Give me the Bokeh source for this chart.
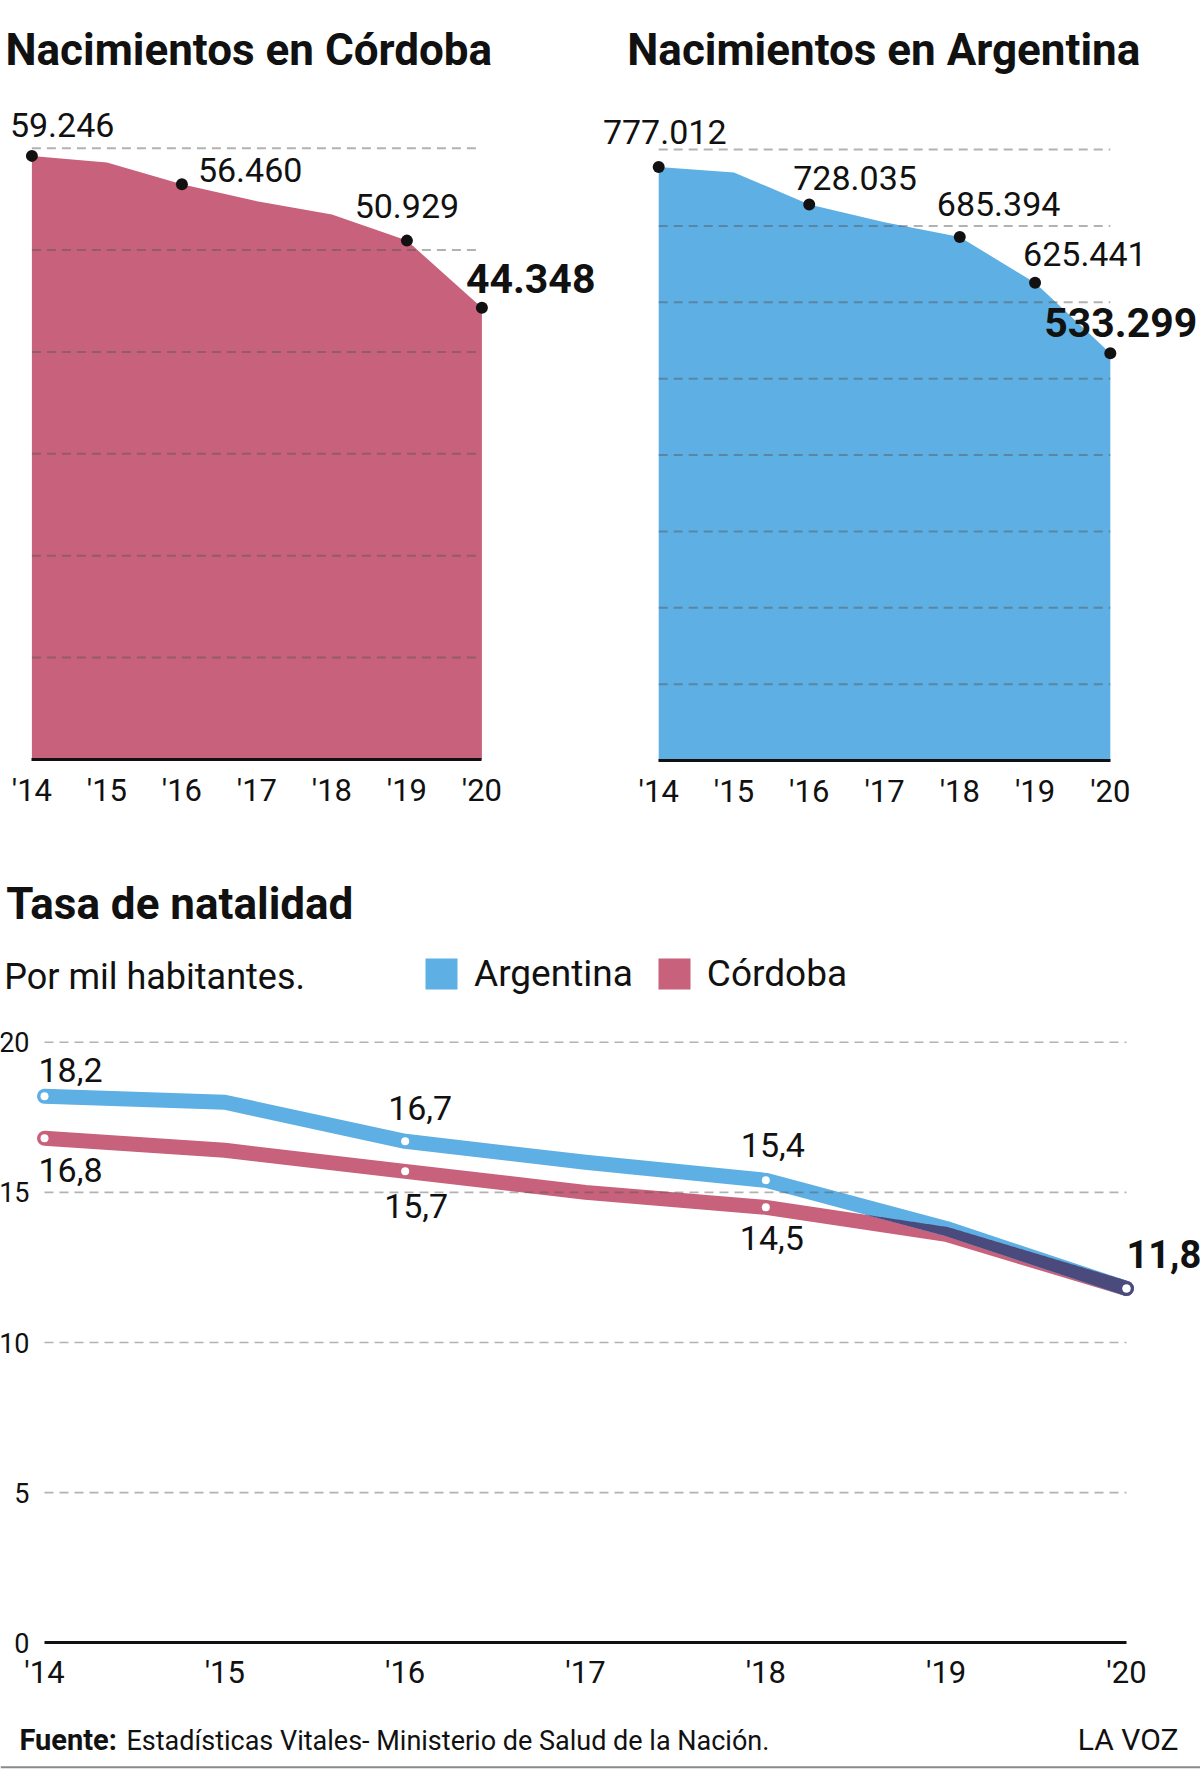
import numpy as np
from bokeh.plotting import figure
from bokeh.models import (Range1d, FixedTicker, LinearAxis, Label, Span,
                          Legend, LegendItem, ColumnDataSource)
from bokeh.layouts import column, row
from bokeh.core.properties import value
from bokeh.embed import file_html
from bokeh.resources import INLINE

# ---------------------------------------------------------------- data
years = [2014, 2015, 2016, 2017, 2018, 2019, 2020]
year_labels = ["'14", "'15", "'16", "'17", "'18", "'19", "'20"]

nac_cordoba = [59246, 58600, 56460, 54800, 53500, 50929, 44348]
nac_argentina = [777012, 770000, 728035, 704600, 685394, 625441, 533299]

tasa_argentina = [18.2, 18.0, 16.7, 16.0, 15.4, 13.8, 11.8]
tasa_cordoba = [16.8, 16.4, 15.7, 15.0, 14.5, 13.6, 11.8]

cordoba_grid = [10000, 20000, 30000, 40000, 50000, 60000]
argentina_grid = [100000, 200000, 300000, 400000, 500000, 600000, 700000, 800000]
tasa_grid = [5, 10, 15, 20]
tasa_ticks = [0, 5, 10, 15, 20]

# ---------------------------------------------------------------- style
FONT_NAME = "Roboto"
FONT = value(FONT_NAME)          # for glyphs
INK = "#111111"
PINK = "#C8617B"
BLUE = "#5EAFE3"
SHARED = "#4B4A7D"   # where the two rate lines lie on top of each other
GRID = "#555555"
LIFT = 0.37          # em: raise single-line text so its baseline sits on the anchor


def miles(v):
    return f"{v:,}".replace(",", ".")


def decimal(v):
    return f"{v:.1f}".replace(".", ",")


def frame(width, height, x_px0, x_per, y_px0, y_per):
    """Ranges so that years[0] sits x_px0 px from the left and 0 sits y_px0 px
    from the top; plus helpers turning pixel positions into data units."""
    xr = Range1d(years[0] - x_px0 / x_per, years[0] + (width - x_px0) / x_per)
    yr = Range1d(-(height - y_px0) / y_per, y_px0 / y_per)
    to_x = lambda px: years[0] + (px - x_px0) / x_per
    to_y = lambda py: (y_px0 - py) / y_per
    return xr, yr, to_x, to_y


def make_fig(width, height, xr, yr):
    p = figure(width=width, height=height, x_range=xr, y_range=yr,
               output_backend="svg", toolbar_location=None, tools="",
               x_axis_location=None, y_axis_location=None,
               min_border=0, min_border_left=0, min_border_right=0,
               min_border_top=0, min_border_bottom=0,
               outline_line_color=None, background_fill_color="white",
               border_fill_color="white")
    p.grid.visible = False
    return p


def year_axis(p, size, standoff):
    ax = LinearAxis(ticker=FixedTicker(ticks=years), fixed_location=0,
                    bounds=(years[0], years[-1]),
                    major_label_overrides={y: l for y, l in zip(years, year_labels)},
                    axis_line_color=INK, axis_line_width=3,
                    major_tick_line_color=None, minor_tick_line_color=None,
                    major_label_standoff=standoff,
                    major_label_text_font=FONT_NAME, major_label_text_font_size=size,
                    major_label_text_line_height=1.0,
                    major_label_text_color=INK)
    p.add_layout(ax, "below")


def text_label(p, to_x, to_y, text, px, py, size, bold=False, align="left"):
    p.add_layout(Label(x=to_x(px), y=to_y(py - LIFT * size), text=text,
                       text_font=FONT_NAME, text_font_size=f"{size}px",
                       text_font_style="bold" if bold else "normal", text_color=INK,
                       text_align=align, text_baseline="alphabetic",
                       text_line_height=1.0))


def dashed_grid(p, levels, width=2):
    src = ColumnDataSource(dict(y=levels))
    p.segment(x0=years[0], x1=years[-1], y0="y", y1="y", source=src,
              line_color=GRID, line_alpha=0.45, line_width=width, line_dash="9 6")


def value_labels(p, values, placement, fmt, size, bold_size):
    for yr, v in zip(years, values):
        if yr not in placement:
            continue
        align, dx, dy, bold = placement[yr]
        s = bold_size if bold else size
        p.text(x=[yr], y=[v], text=[fmt(v)], x_offset=dx, y_offset=dy - LIFT * s,
               text_align=align, text_baseline="alphabetic", text_line_height=1.0,
               text_font=FONT, text_font_size=f"{s}px",
               text_font_style="bold" if bold else "normal", text_color=INK)


# ------------------------------------------------ births in Córdoba
xr1, yr1, X1, Y1 = frame(600, 830, 31.4, 75.0, 759, 611.3 / 60000)
p1 = make_fig(600, 830, xr1, yr1)
p1.varea(x=years, y1=0, y2=nac_cordoba, fill_color=PINK)
dashed_grid(p1, cordoba_grid)
year_axis(p1, "31px", 6)
cordoba_place = {2014: ("left", -22, -18, False),
                 2016: ("left", 16, -2, False),
                 2019: ("center", 0, -22, False),
                 2020: ("left", -16, -14, True)}
cy = [y for y in years if y in cordoba_place]
p1.scatter(x=cy, y=[v for y, v in zip(years, nac_cordoba) if y in cordoba_place],
           size=12, fill_color=INK, line_color=None)
value_labels(p1, nac_cordoba, cordoba_place, miles, 34, 41)
text_label(p1, X1, Y1, "Nacimientos en Córdoba", 5, 66, 44, bold=True)

# ------------------------------------------------ births in Argentina
xr2, yr2, X2, Y2 = frame(600, 830, 58.2, 75.27, 760, 611.0 / 800000)
p2 = make_fig(600, 830, xr2, yr2)
p2.varea(x=years, y1=0, y2=nac_argentina, fill_color=BLUE)
dashed_grid(p2, argentina_grid)
year_axis(p2, "31px", 6)
argentina_place = {2014: ("center", 6, -22, False),
                   2016: ("left", -16, -14, False),
                   2018: ("left", -23, -20, False),
                   2019: ("left", -12, -16, False),
                   2020: ("right", 87, -16, True)}
ay = [y for y in years if y in argentina_place]
p2.scatter(x=ay, y=[v for y, v in zip(years, nac_argentina) if y in argentina_place],
           size=12, fill_color=INK, line_color=None)
value_labels(p2, nac_argentina, argentina_place, miles, 34, 41)
text_label(p2, X2, Y2, "Nacimientos en Argentina", 26.8, 66, 44, bold=True)

# ------------------------------------------------ birth rate
W3, H3 = 1200, 939
PX_YEAR, PX_UNIT = 180.33, 30.03
xr3, yr3, X3, Y3 = frame(W3, H3, 44, PX_YEAR, 812.3, PX_UNIT)
p3 = make_fig(W3, H3, xr3, yr3)

LW = 15
p3.line(years, tasa_cordoba, line_color=PINK, line_width=LW,
        line_cap="round", line_join="round")
p3.line(years, tasa_argentina, line_color=BLUE, line_width=LW,
        line_cap="round", line_join="round")

# darker band where the two thick strokes overlap
xs = np.linspace(years[0], years[-1], 721)
a = np.interp(xs, years, tasa_argentina)
b = np.interp(xs, years, tasa_cordoba)
half = lambda s: (LW / 2) * np.sqrt(1 + (np.gradient(s, xs) * PX_UNIT / PX_YEAR) ** 2) / PX_UNIT
hi = np.minimum(a + half(a), b + half(b))
lo = np.maximum(a - half(a), b - half(b))
hi = np.where(hi > lo, hi, lo)
p3.varea(x=xs, y1=lo, y2=hi, fill_color=SHARED)
same = [i for i in range(len(years)) if abs(tasa_argentina[i] - tasa_cordoba[i]) < 0.05]
p3.scatter(x=[years[i] for i in same], y=[tasa_argentina[i] for i in same],
           size=LW, fill_color=SHARED, line_color=None)

dashed_grid(p3, tasa_grid, width=1.6)

arg_place = {2014: ("left", -6, -14, False),
             2016: ("center", 15, -21, False),
             2018: ("center", 7, -23, False),
             2020: ("left", 0, -20, True)}
cba_place = {2014: ("left", -6, 44, False),
             2016: ("center", 11, 47, False),
             2018: ("center", 6, 43, False)}
dot_years = [2014, 2016, 2018, 2020]
p3.scatter(x=dot_years, y=[v for y, v in zip(years, tasa_argentina) if y in dot_years],
           size=8, fill_color="white", line_color=None)
p3.scatter(x=dot_years, y=[v for y, v in zip(years, tasa_cordoba) if y in dot_years],
           size=8, fill_color="white", line_color=None)
value_labels(p3, tasa_argentina, arg_place, decimal, 34, 38)
value_labels(p3, tasa_cordoba, cba_place, decimal, 34, 38)

year_axis(p3, "31px", 5)
yax = LinearAxis(ticker=FixedTicker(ticks=tasa_ticks), fixed_location=years[0],
                 axis_line_color=None, major_tick_line_color=None,
                 minor_tick_line_color=None, major_label_standoff=9,
                 major_label_text_font=FONT_NAME, major_label_text_font_size="27px",
                 major_label_text_line_height=1.0,
                 major_label_text_color=INK)
p3.add_layout(yax, "left")

text_label(p3, X3, Y3, "Tasa de natalidad", 5.7, 90, 44, bold=True)
text_label(p3, X3, Y3, "Por mil habitantes.", 3.8, 160, 36)

sw_arg = p3.quad(left=[np.nan], right=[np.nan], top=[np.nan], bottom=[np.nan],
                 fill_color=BLUE, line_color=None)
sw_cba = p3.quad(left=[np.nan], right=[np.nan], top=[np.nan], bottom=[np.nan],
                 fill_color=PINK, line_color=None)
legend = Legend(items=[LegendItem(label="Argentina", renderers=[sw_arg]),
                       LegendItem(label="Córdoba", renderers=[sw_cba])],
                orientation="horizontal", location=(421, 774),
                glyph_width=40, glyph_height=39, label_standoff=13, spacing=21,
                padding=0, margin=0, border_line_color=None,
                background_fill_alpha=0, label_text_font=FONT_NAME,
                label_text_font_size="37px", label_text_line_height=1.0,
                label_text_color=INK)
p3.add_layout(legend)

text_label(p3, X3, Y3, "Fuente:", 19, 920, 29, bold=True)
text_label(p3, X3, Y3, "Estadísticas Vitales- Ministerio de Salud de la Nación.",
           126, 920, 27)
text_label(p3, X3, Y3, "LA VOZ", 1178, 920, 30, align="right")
p3.add_layout(Span(location=Y3(936.7), dimension="width", line_color="#8a8a8a",
                   line_width=2))

layout = column(row(p1, p2), p3)
open("out.html", "w").write(file_html(layout, INLINE))
